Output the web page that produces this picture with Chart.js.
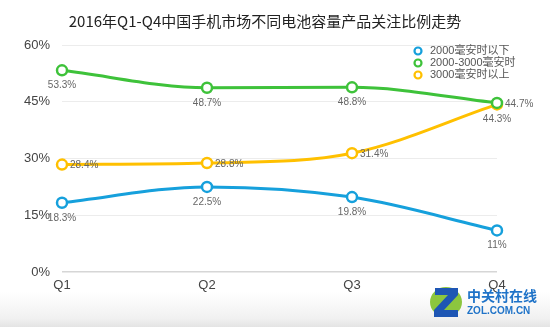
<!DOCTYPE html>
<html>
<head>
<meta charset="utf-8">
<script src="https://cdn.jsdelivr.net/npm/chart.js@4"></script>
<style>
  html, body { margin: 0; padding: 0; }
  body {
    width: 550px; height: 327px; overflow: hidden;
    background: linear-gradient(to bottom, #fff 0px, #fff 292px, #f1f1f1 318px, #e4e4e4 327px);
  }
  #wrap { position: relative; width: 550px; height: 327px; }
</style>
</head>
<body>
<div id="wrap"><canvas id="chart" width="550" height="327"></canvas></div>
<script>
const quarters = ['Q1', 'Q2', 'Q3', 'Q4'];
const below2000 = [18.3, 22.5, 19.8, 11];
const mid2000to3000 = [53.3, 48.7, 48.8, 44.7];
const above3000 = [28.4, 28.8, 31.4, 44.3];
const seriesNames = ['2000毫安时以下', '2000-3000毫安时', '3000毫安时以上'];
const yTicks = [0, 15, 30, 45, 60];

// where each point's value label sits relative to its marker
const labelSide = [
  ['below', 'below', 'below', 'below'],
  ['below', 'below', 'below', 'right'],
  ['right', 'right', 'right', 'below']
];

const colors = ['#16a0dc', '#3ec23a', '#ffc000'];
const FONT = "Arial, 'Liberation Sans', 'Noto Sans CJK SC', sans-serif";
const CJK = "'Noto Sans CJK SC', Arial, sans-serif";

function makeSet(name, values, color) {
  return {
    label: name,
    data: values,
    borderColor: color,
    backgroundColor: '#fff',
    borderWidth: 3,
    pointRadius: 5,
    pointBorderWidth: 2.5,
    pointBackgroundColor: '#fff',
    pointBorderColor: color,
    tension: 0.4,
    cubicInterpolationMode: 'monotone',
    fill: false
  };
}

const decorPlugin = {
  id: 'decor',
  afterDatasetsDraw(chart) {
    const ctx = chart.ctx;
    ctx.save();
    // value labels
    ctx.font = `10px ${FONT}`;
    ctx.fillStyle = '#666';
    ctx.textBaseline = 'middle';
    chart.data.datasets.forEach((ds, i) => {
      const meta = chart.getDatasetMeta(i);
      meta.data.forEach((pt, j) => {
        const txt = ds.data[j] + '%';
        if (labelSide[i][j] === 'right') {
          ctx.textAlign = 'left';
          ctx.fillText(txt, pt.x + 8, pt.y + 1);
        } else {
          ctx.textAlign = 'center';
          ctx.fillText(txt, pt.x, pt.y + 15);
        }
      });
    });
    ctx.restore();
  },
  afterDraw(chart) {
    const ctx = chart.ctx;
    ctx.save();
    // title
    ctx.font = `400 15px ${CJK}`;
    ctx.fillStyle = '#222';
    ctx.textAlign = 'center';
    ctx.textBaseline = 'middle';
    ctx.fillText('2016年Q1-Q4中国手机市场不同电池容量产品关注比例走势', 265, 21);

    // legend
    ctx.font = `11px ${FONT}`;
    ctx.textAlign = 'left';
    seriesNames.forEach((name, i) => {
      const y = 51 + i * 12;
      ctx.beginPath();
      ctx.arc(418, y, 3.5, 0, Math.PI * 2);
      ctx.fillStyle = '#fff';
      ctx.fill();
      ctx.lineWidth = 2.2;
      ctx.strokeStyle = colors[i];
      ctx.stroke();
      ctx.fillStyle = '#555';
      ctx.fillText(name, 430, y);
    });

    // watermark logo
    const lx = 430, ly = 287;
    ctx.fillStyle = '#8cc63e';
    ctx.beginPath();
    ctx.ellipse(lx + 16, ly + 15, 16, 15, 0, 0, Math.PI * 2);
    ctx.fill();
    ctx.fillStyle = '#1e56b4';
    ctx.beginPath();
    ctx.moveTo(lx + 5, ly + 1);
    ctx.lineTo(lx + 28, ly + 1);
    ctx.lineTo(lx + 28, ly + 8);
    ctx.lineTo(lx + 14, ly + 23);
    ctx.lineTo(lx + 28, ly + 23);
    ctx.lineTo(lx + 28, ly + 30);
    ctx.lineTo(lx + 4, ly + 30);
    ctx.lineTo(lx + 4, ly + 23);
    ctx.lineTo(lx + 18, ly + 8);
    ctx.lineTo(lx + 5, ly + 8);
    ctx.closePath();
    ctx.fill();
    ctx.fillStyle = '#1f73c8';
    ctx.font = `bold 14px ${CJK}`;
    ctx.fillText('中关村在线', 467, 296);
    ctx.font = `bold 10px Arial, sans-serif`;
    ctx.fillText('ZOL.COM.CN', 467, 311);
    ctx.restore();
  }
};

new Chart(document.getElementById('chart'), {
  type: 'line',
  data: {
    labels: quarters,
    datasets: [
      makeSet(seriesNames[0], below2000, colors[0]),
      makeSet(seriesNames[1], mid2000to3000, colors[1]),
      makeSet(seriesNames[2], above3000, colors[2])
    ]
  },
  options: {
    responsive: false,
    animation: false,
    layout: { padding: { top: 45, right: 53, bottom: 0, left: 0 } },
    plugins: {
      legend: { display: false },
      title: { display: false },
      tooltip: { enabled: false }
    },
    scales: {
      x: {
        offset: false,
        grid: { display: false, drawTicks: false },
        border: { display: false },
        ticks: { color: '#444', font: { size: 13, family: FONT }, padding: 6, maxRotation: 0 },
        afterFit(axis) { axis.height = 55; }
      },
      y: {
        min: 0,
        max: 60,
        afterBuildTicks(axis) { axis.ticks = yTicks.map(v => ({ value: v })); },
        grid: {
          color: ctx => ctx.tick.value === 0 ? '#d6d6d6' : '#ececec',
          lineWidth: ctx => ctx.tick.value === 0 ? 1.5 : 1,
          drawTicks: false
        },
        border: { display: false },
        ticks: {
          color: '#444',
          font: { size: 13, family: FONT },
          padding: 12,
          callback: v => v + '%'
        },
        afterFit(axis) { axis.width = 62; }
      }
    }
  },
  plugins: [decorPlugin]
});
</script>
</body>
</html>
